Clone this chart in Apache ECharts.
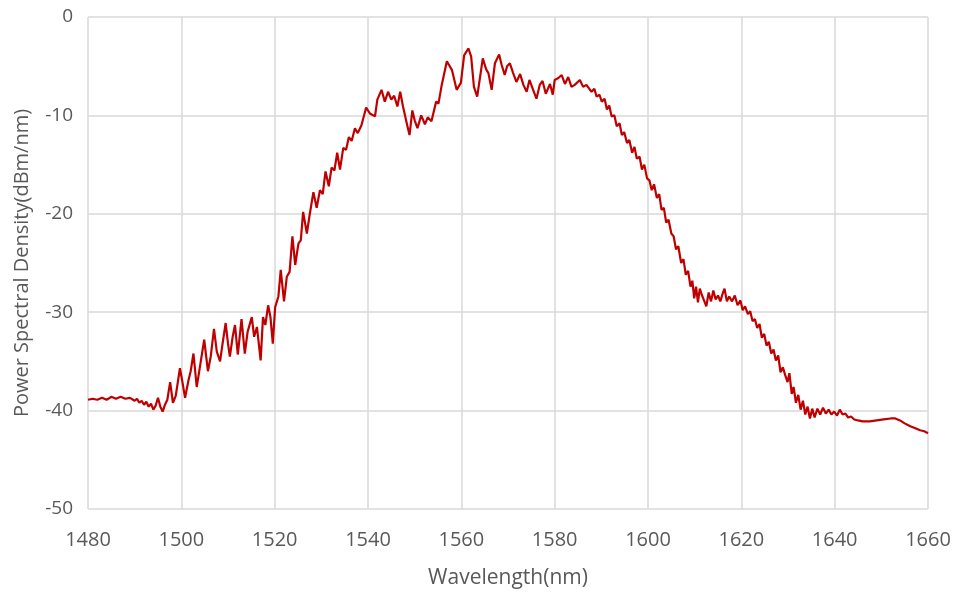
<!DOCTYPE html>
<html>
<head>
<meta charset="utf-8">
<script src="https://cdn.jsdelivr.net/npm/echarts@6/dist/echarts.min.js"></script>
<style>
html,body{margin:0;padding:0;background:#fff;}
#chart{width:958px;height:596px;}
</style>
</head>
<body>
<div id="chart"></div>
<script>
// Wavelength (nm)
var wavelengths = [
1480,1481,1482,1483,1484,1485,1486,1487,1488,1489,1490,1490.5,1491,1491.5,1492,1492.5,1493,1493.5,1494,1494.5,
1495,1495.5,1496,1496.5,1497,1497.6,1498.2,1498.8,1499.7,1500.2,1500.8,1501.5,1502,1502.6,1503.3,1504,1504.9,1505.7,1506.3,1507,
1507.6,1508.3,1508.9,1509.5,1510,1510.4,1511,1511.5,1512.1,1512.9,1513.6,1514.2,1515.1,1515.6,1516.2,1517,1517.5,1518,1518.6,1519.1,
1519.6,1520.1,1520.8,1521.3,1522,1522.6,1523.2,1523.8,1524.4,1525.1,1525.6,1526.1,1526.9,1527.5,1528.3,1529,1529.7,1530.3,1530.9,1531.6,
1532.2,1532.8,1533.4,1534,1534.7,1535.3,1535.9,1536.5,1537.2,1537.8,1538.6,1539.6,1540.4,1541.5,1542,1542.9,1543.6,1544.3,1545,1545.6,
1546.3,1546.9,1547.5,1548.4,1548.9,1549.5,1550,1550.6,1551.4,1552.2,1552.8,1553.6,1554.6,1555.1,1555.8,1556.9,1558,1559,1559.9,1560.6,
1561.5,1562.1,1562.7,1563.4,1564.6,1565.3,1565.8,1566.5,1567.2,1568.1,1568.6,1569.3,1569.8,1570.4,1571.1,1571.8,1572.6,1573.3,1574,1574.6,
1575.3,1576.1,1576.8,1577.4,1578.1,1579,1579.6,1580,1580.8,1581.5,1582.2,1582.9,1583.6,1584.3,1585.4,1586.1,1586.8,1587.9,1588.5,1589,
1589.6,1590.1,1590.7,1591.2,1591.7,1592.2,1592.8,1593.3,1593.9,1594.4,1594.9,1595.5,1596,1596.6,1597.1,1597.6,1598.2,1598.7,1599.2,1599.8,
1600.3,1600.8,1601.3,1601.9,1602.4,1602.9,1603.4,1603.9,1604.4,1605,1605.5,1606,1606.5,1607.1,1607.6,1608.1,1608.6,1609.1,1609.5,1609.9,
1610.3,1610.7,1611.1,1611.5,1612,1612.5,1613,1613.5,1614,1614.5,1615,1615.5,1616,1616.4,1616.9,1617.4,1618,1618.6,1619.2,1619.8,
1620.3,1620.8,1621.4,1621.9,1622.4,1622.9,1623.4,1623.9,1624.4,1624.9,1625.4,1625.9,1626.4,1626.9,1627.4,1627.9,1628.4,1628.9,1629.4,1629.9,
1630.3,1630.8,1631.2,1631.7,1632.2,1632.7,1633.2,1633.7,1634.2,1634.7,1635.2,1635.7,1636.3,1636.9,1637.5,1638.1,1638.7,1639.3,1639.9,1640.5,
1641.1,1641.7,1642.3,1642.9,1643.5,1644.2,1645,1646,1647.5,1649,1650.5,1652,1653,1654,1655,1656.2,1657.3,1658.3,1659.2,1660
];
// Power spectral density (dBm/nm)
var psd = [
-38.9,-38.8,-38.9,-38.7,-38.9,-38.6,-38.8,-38.6,-38.8,-38.7,-39.0,-38.8,-39.2,-39.0,-39.4,-39.1,-39.6,-39.3,-39.9,-39.5,
-38.7,-39.6,-40.1,-39.4,-38.9,-37.1,-39.2,-38.5,-35.7,-37.0,-38.7,-37.0,-36.0,-34.2,-37.6,-35.5,-32.8,-36.0,-34.5,-31.7,
-34.0,-35.0,-33.0,-31.1,-33.2,-34.5,-32.5,-31.3,-34.3,-30.7,-34.2,-32.0,-30.5,-32.5,-31.5,-34.9,-30.5,-31.3,-29.3,-30.5,
-33.2,-29.5,-28.4,-25.7,-28.9,-26.4,-25.9,-22.3,-25.2,-23.0,-22.7,-19.8,-22.0,-20.1,-17.8,-19.4,-17.6,-18.0,-15.7,-17.2,
-15.3,-15.6,-13.8,-15.5,-13.3,-13.5,-12.2,-12.6,-11.3,-11.8,-11.0,-9.2,-9.8,-10.1,-8.4,-7.4,-8.6,-7.6,-8.4,-8.0,
-9.1,-7.6,-9.1,-11.0,-12.0,-9.5,-10.5,-11.3,-10.0,-10.9,-10.2,-10.6,-8.6,-8.8,-6.9,-4.5,-5.4,-7.4,-6.7,-3.9,
-3.2,-4.0,-7.1,-8.1,-4.2,-5.3,-5.7,-7.4,-4.7,-3.8,-4.8,-5.9,-5.0,-4.7,-5.7,-6.6,-5.8,-6.9,-7.6,-6.4,
-7.3,-8.3,-6.9,-6.5,-7.8,-6.8,-7.9,-6.4,-6.2,-5.9,-6.8,-6.1,-7.1,-6.9,-6.4,-7.1,-6.9,-7.6,-7.3,-8.1,
-7.9,-8.6,-8.3,-9.4,-9.0,-10.1,-10.0,-11.1,-10.8,-12.0,-11.7,-12.8,-12.5,-13.8,-13.2,-14.4,-14.2,-15.5,-15.0,-16.4,
-16.6,-17.6,-17.0,-18.4,-18.0,-19.6,-19.4,-20.9,-20.6,-22.0,-22.3,-23.6,-23.3,-25.0,-24.6,-26.2,-25.8,-27.4,-26.8,-28.6,
-27.4,-29.0,-27.6,-28.2,-28.8,-29.4,-28.0,-28.9,-27.8,-28.7,-28.3,-28.9,-28.1,-27.6,-28.9,-28.4,-28.9,-28.3,-29.3,-28.8,
-29.8,-29.4,-30.2,-29.9,-30.9,-30.7,-31.6,-31.2,-32.6,-32.2,-33.4,-33.0,-34.2,-33.8,-34.9,-34.4,-36.1,-35.6,-36.4,-37.1,
-36.2,-38.3,-37.6,-39.2,-38.4,-39.9,-39.0,-40.4,-39.6,-40.8,-39.8,-40.7,-39.8,-40.4,-39.7,-40.3,-39.9,-40.4,-40.1,-40.5,
-39.9,-40.4,-40.3,-40.7,-40.6,-40.9,-41.0,-41.1,-41.1,-41.0,-40.9,-40.8,-40.8,-41.0,-41.3,-41.6,-41.8,-42.0,-42.1,-42.3
];
var xTicks = {min: 1480, max: 1660, step: 20};
var yTicks = {min: -50, max: 0, step: 10};

var seriesData = wavelengths.map(function (w, i) { return [w, psd[i]]; });

var chart = echarts.init(document.getElementById('chart'), null, {renderer: 'canvas'});
var fontFam = '"Open Sans", "Liberation Sans", sans-serif';
chart.setOption({
  animation: false,
  backgroundColor: '#ffffff',
  grid: {left: 88, right: 30, top: 17, bottom: 87, containLabel: false},
  xAxis: {
    type: 'value',
    min: xTicks.min, max: xTicks.max, interval: xTicks.step,
    name: 'Wavelength(nm)',
    nameLocation: 'middle',
    nameGap: 59,
    nameTextStyle: {color: '#595959', fontSize: 21, fontFamily: fontFam},
    axisLine: {show: false},
    axisTick: {show: false},
    axisLabel: {color: '#595959', fontSize: 20, fontFamily: fontFam, margin: 21,
      formatter: function (v) { return String(v); }},
    splitLine: {show: true, lineStyle: {color: '#d9d9d9', width: 1.5}}
  },
  yAxis: {
    type: 'value',
    min: yTicks.min, max: yTicks.max, interval: yTicks.step,
    name: 'Power Spectral Density(dBm/nm)',
    nameLocation: 'middle',
    nameGap: 56,
    nameTextStyle: {color: '#595959', fontSize: 20, fontFamily: fontFam},
    axisLine: {show: false},
    axisTick: {show: false},
    axisLabel: {color: '#595959', fontSize: 19, fontFamily: fontFam, margin: 15,
      formatter: function (v) { return String(v); }},
    splitLine: {show: true, lineStyle: {color: '#d9d9d9', width: 1.5}}
  },
  series: [{
    type: 'line',
    data: seriesData,
    showSymbol: false,
    symbol: 'none',
    lineStyle: {color: '#c00000', width: 2.2},
    itemStyle: {color: '#c00000'}
  }]
});
</script>
</body>
</html>
